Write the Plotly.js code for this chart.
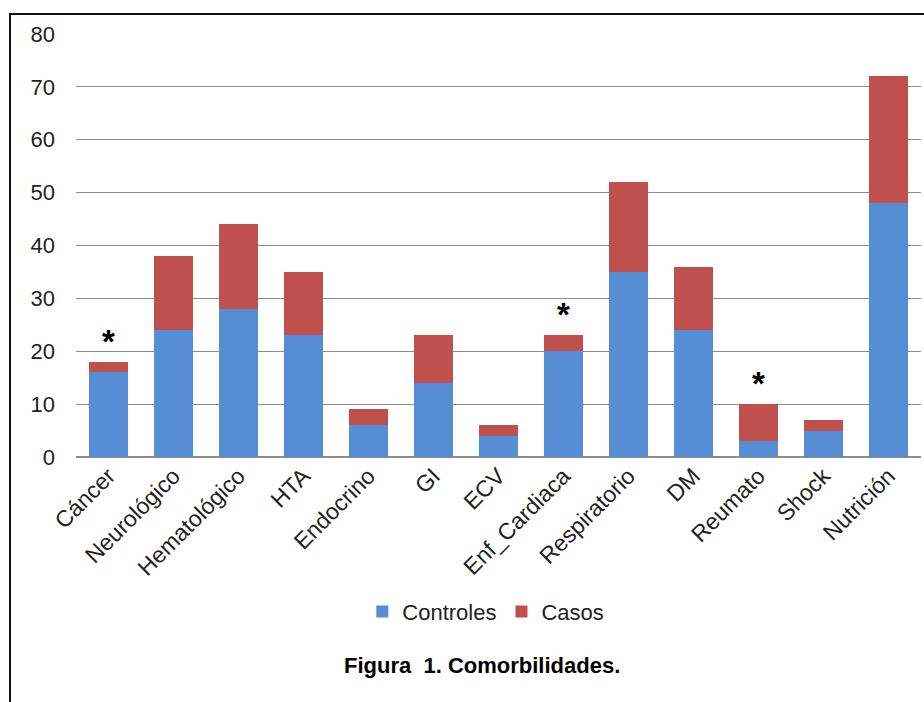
<!DOCTYPE html>
<html>
<head>
<meta charset="utf-8">
<script src="https://cdn.plot.ly/plotly-3.0.1.min.js"></script>
<style>
  html, body { margin: 0; padding: 0; background: #fff; }
  #wrap { position: relative; width: 924px; height: 702px; overflow: hidden; }
  #frame { position: absolute; left: 9px; top: 13px; width: 1000px; height: 1000px; border: 2px solid #111; pointer-events: none; }
</style>
</head>
<body>
<div id="wrap">
  <div id="chart" style="width:924px;height:702px;"></div>
  <div id="frame"></div>
</div>
<script>
const categories = ["Cáncer", "Neurológico", "Hematológico", "HTA", "Endocrino", "GI", "ECV", "Enf_Cardiaca", "Respiratorio", "DM", "Reumato", "Shock", "Nutrición"];
const controles = [16, 24, 28, 23, 6, 14, 4, 20, 35, 24, 3, 5, 48];
const casos =     [2, 14, 16, 12, 3, 9, 2, 3, 17, 12, 7, 2, 24];
const significant = ["Cáncer", "Enf_Cardiaca", "Reumato"];
const yTicks = [0, 10, 20, 30, 40, 50, 60, 70, 80];

const font = "Arial, 'Liberation Sans', sans-serif";

const traces = [
  { type: "bar", name: "Controles", x: categories, y: controles, marker: { color: "#558ED5" } },
  { type: "bar", name: "Casos", x: categories, y: casos, marker: { color: "#C0504D" } }
];

const annotations = significant.map(c => {
  const i = categories.indexOf(c);
  return {
    x: c, y: controles[i] + casos[i], xref: "x", yref: "y",
    text: "<b>*</b>", showarrow: false, yanchor: "bottom", yshift: 0,
    font: { family: font, size: 33, color: "#000" }
  };
});
annotations.push({
  x: 0.48, y: -0.492, xref: "paper", yref: "paper", xanchor: "center", yanchor: "middle",
  text: "<b>Figura  1. Comorbilidades.</b>", showarrow: false,
  font: { family: font, size: 22, color: "#000" }
});

const layout = {
  width: 924, height: 702,
  margin: { l: 76, r: 3, t: 34, b: 245 },
  paper_bgcolor: "#fff", plot_bgcolor: "#fff",
  barmode: "stack", bargap: 0.415,
  font: { family: font, size: 20, color: "#222" },
  xaxis: {
    type: "category", tickangle: -45, showgrid: false, zeroline: false,
    showline: false, ticks: "", tickfont: { family: font, size: 23, color: "#222" }
  },
  yaxis: {
    range: [0, 80], tickvals: yTicks, showgrid: true, gridcolor: "#8c8c8c", gridwidth: 1,
    zeroline: true, zerolinecolor: "#8c8c8c", zerolinewidth: 1.5,
    showline: false, ticks: "", ticklabelstandoff: 20,
    tickfont: { family: font, size: 22, color: "#222" }
  },
  legend: {
    orientation: "h", x: 0.485, xanchor: "center", y: -0.366, yanchor: "middle",
    font: { family: font, size: 22, color: "#222" }, traceorder: "normal",
    itemwidth: 30
  },
  showlegend: true,
  annotations: annotations
};

Plotly.newPlot("chart", traces, layout, { displayModeBar: false, staticPlot: true });
</script>
</body>
</html>
